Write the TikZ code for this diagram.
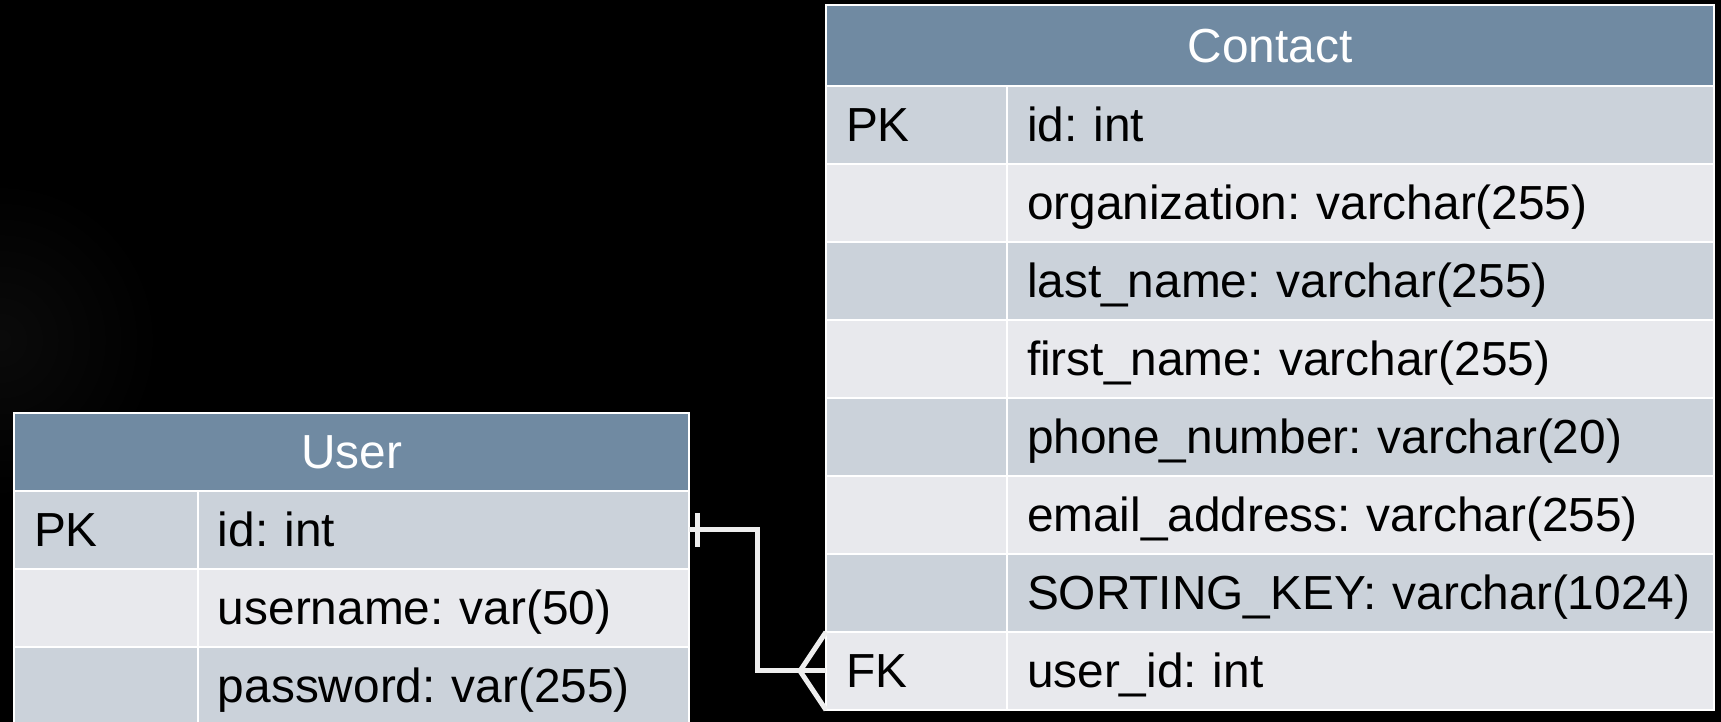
\documentclass[tikz,border=0pt]{standalone}
\usepackage{fontspec}
\setmainfont{Liberation Sans}
\usetikzlibrary{positioning}
\definecolor{hdblue}{HTML}{708AA2}
\definecolor{rowdk}{HTML}{CBD2DA}
\definecolor{rowlt}{HTML}{E8E9ED}
\definecolor{linkgr}{HTML}{EEEEEE}
\frenchspacing
\begin{document}
\begin{tikzpicture}[x=0.1mm, y=-0.1mm,
    every node/.style={font=\fontsize{13.6pt}{16pt}\selectfont},
    cell/.style={draw=white, line width=0.2mm, outer sep=0pt, inner xsep=2mm, inner ysep=0pt,
      minimum height=7.8mm, text height=3.4mm, text depth=0pt, align=left, anchor=north west},
    head/.style={cell, fill=hdblue, text=white, align=center},
    link/.style={draw=linkgr, line width=0.5mm}]
  \clip (0,0) rectangle (1721,722);
  \fill[black] (0,0) rectangle (1721,722);
  \shade[inner color=black!96!white, outer color=black] (0,340) circle (160);
  % Contact
  \node[head, text width=84.8mm, minimum height=8.1mm] (chead) at (826,5) {Contact};
  \foreach \k/\f/\c [count=\i] in {PK/id: int/rowdk, /organization: varchar(255)/rowlt,
      /last\_name: varchar(255)/rowdk, /first\_name: varchar(255)/rowlt,
      /phone\_number: varchar(20)/rowdk, /email\_address: varchar(255)/rowlt,
      /SORTING\_KEY: varchar(1024)/rowdk, FK/user\_id: int/rowlt}{
    \node[cell, fill=\c, text width=14.1mm] (ck\i) at (826,{86+78*(\i-1)}) {\k};
    \node[cell, fill=\c, text width=66.7mm, right=0pt of ck\i] (cf\i) {\f};
  }
  % User
  \node[head, text width=63.5mm] (uhead) at (14,413) {User};
  \foreach \k/\f/\c [count=\i] in {PK/id: int/rowdk, /username: var(50)/rowlt,
      /password: var(255)/rowdk}{
    \node[cell, fill=\c, text width=14.4mm] (uk\i) at (14,{491+78*(\i-1)}) {\k};
    \node[cell, fill=\c, text width=45.1mm, right=0pt of uk\i] (uf\i) {\f};
  }
  % one user -- many contacts
  \draw[link] (uf1.east) -- ++(69,0) |- (ck8.west);
  \coordinate (ubar) at ([xshift=0.9mm]uf1.east);
  \draw[link] ([yshift=1.7mm]ubar) -- ([yshift=-1.7mm]ubar);
  \coordinate (fork) at ([xshift=-2.6mm]ck8.west);
  \draw[link] (ck8.north west) -- (fork) -- (ck8.south west);
\end{tikzpicture}
\end{document}
